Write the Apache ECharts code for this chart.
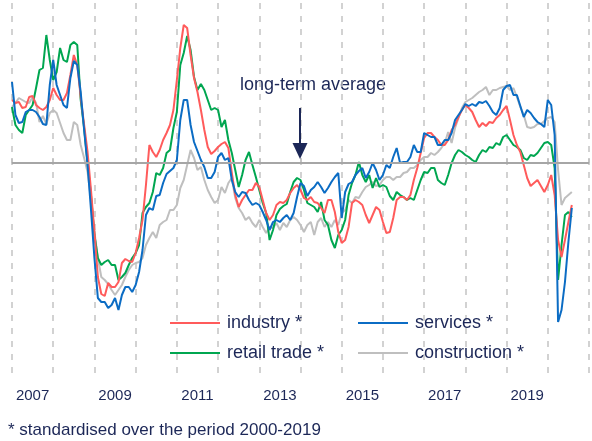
<!DOCTYPE html>
<html>
<head>
<meta charset="utf-8">
<script src="https://cdn.jsdelivr.net/npm/echarts@6/dist/echarts.min.js"></script>
<style>
html,body{margin:0;padding:0;background:#fff;}
#chart{width:592px;height:441px;}
</style>
</head>
<body>
<div id="chart"></div>
<script>
// Monthly categories Jan 2007 .. Jan 2021
const months = [];
for (let y = 2007; y <= 2021; y++) {
  for (let m = 1; m <= 12; m++) {
    if (y === 2021 && m > 1) break;
    months.push(y + '-' + String(m).padStart(2, '0'));
  }
}
const years = ['2007','2008','2009','2010','2011','2012','2013','2014','2015','2016','2017','2018','2019','2020'];

// Standardised confidence indicators (long-term average = 0), Jan 2007 .. Aug 2020
const industry = [
  1.26,1.20,1.22,1.10,1.12,1.32,1.34,1.16,1.10,1.06,1.12,1.26,
  1.50,1.36,1.26,1.26,1.40,1.76,2.16,1.96,1.32,0.76,0.22,-0.54,
  -1.38,-2.28,-2.62,-2.66,-2.40,-2.48,-2.48,-2.38,-2.00,-1.92,-1.96,-1.98,
  -1.80,-1.50,-1.14,-0.44,0.36,0.22,0.12,0.26,0.46,0.60,0.76,1.06,
  1.66,2.30,2.76,2.70,2.16,1.70,1.42,1.06,0.66,0.32,0.18,0.24,
  0.32,0.38,0.42,0.30,-0.20,-0.64,-0.88,-0.74,-0.64,-0.54,-0.54,-0.40,
  -0.48,-0.74,-1.00,-1.14,-1.04,-0.84,-0.78,-0.80,-0.74,-0.60,-0.50,-0.44,
  -0.54,-0.70,-0.74,-0.68,-0.78,-0.80,-0.90,-1.00,-0.74,-0.74,-0.98,-1.38,
  -1.60,-1.54,-1.28,-0.80,-0.74,-0.78,-0.84,-1.04,-1.20,-1.04,-0.88,-0.94,
  -1.18,-1.40,-1.38,-1.10,-0.74,-0.68,-0.68,-0.74,-0.64,-0.34,-0.10,0.20,
  0.50,0.60,0.60,0.52,0.46,0.36,0.36,0.46,0.66,0.76,0.92,1.06,
  1.16,1.10,1.02,0.86,0.72,0.80,0.74,0.82,0.80,0.90,0.96,1.06,
  1.14,0.86,0.56,0.36,0.22,-0.04,-0.30,-0.46,-0.40,-0.34,-0.46,-0.58,
  -0.44,-0.24,-0.64,-1.54,-1.88,-1.54,-1.18,-0.84
];
const services = [
  1.62,0.96,0.80,0.82,1.02,1.06,1.06,1.02,0.92,0.78,0.76,1.56,
  2.06,1.56,1.36,1.16,1.10,1.70,2.04,1.96,1.42,0.66,-0.04,-0.94,
  -1.90,-2.70,-2.78,-2.78,-2.90,-2.84,-2.70,-2.94,-2.64,-2.48,-2.48,-2.58,
  -2.44,-2.18,-1.74,-1.04,-0.90,-0.94,-0.66,-0.64,-0.40,-0.22,-0.16,-0.10,
  0.06,0.86,1.26,1.26,0.76,0.42,0.24,0.06,-0.08,-0.30,-0.30,-0.18,
  0.12,0.20,0.06,0.10,-0.34,-0.58,-0.68,-0.58,-0.60,-0.74,-0.84,-0.80,
  -0.84,-0.98,-1.14,-1.34,-1.18,-1.14,-1.18,-1.10,-1.04,-1.14,-1.00,-0.68,
  -0.40,-0.46,-0.66,-0.54,-0.48,-0.38,-0.48,-0.60,-0.50,-0.38,-0.28,-0.20,
  -1.10,-0.58,-0.42,-0.38,-0.24,-0.16,-0.10,-0.30,-0.18,0.00,-0.14,-0.34,
  -0.24,-0.04,-0.10,0.12,0.30,0.00,0.02,0.02,0.12,0.36,0.22,0.22,
  0.60,0.56,0.52,0.52,0.36,0.36,0.46,0.46,0.60,0.86,0.96,1.06,
  1.18,1.14,1.18,1.14,1.22,1.20,1.24,1.14,1.02,0.96,1.10,1.46,
  1.54,1.56,1.36,1.36,1.14,0.92,1.06,1.00,0.90,0.82,0.78,0.72,
  1.26,1.16,0.56,-3.18,-2.94,-2.38,-1.58,-0.90
];
const retail = [
  1.12,0.76,0.66,0.60,0.96,1.06,1.16,1.50,1.86,1.90,2.56,2.06,
  1.66,1.82,2.30,2.06,2.02,2.36,2.42,2.36,1.26,0.70,0.00,-0.64,
  -1.44,-1.90,-2.04,-1.98,-1.94,-2.04,-2.04,-2.34,-2.28,-2.20,-2.04,-1.90,
  -1.80,-1.64,-1.00,-0.88,-0.80,-0.58,-0.20,-0.24,-0.10,0.20,0.26,0.70,
  1.02,1.96,2.20,2.54,2.26,1.72,1.46,1.58,1.46,1.26,1.06,1.10,
  1.06,0.72,0.86,0.46,0.20,-0.14,-0.48,-0.24,0.06,0.22,-0.04,-0.28,
  -0.54,-0.80,-1.00,-1.54,-1.34,-1.04,-0.92,-0.86,-0.82,-0.58,-0.38,-0.30,
  -0.34,-0.54,-0.80,-0.84,-0.88,-0.98,-0.78,-1.14,-1.24,-1.54,-1.70,-1.44,
  -1.34,-1.14,-0.64,-0.40,-0.24,0.02,-0.24,-0.38,-0.24,-0.50,-0.30,-0.48,
  -0.44,-0.48,-0.66,-0.74,-0.58,-0.64,-0.68,-0.74,-0.70,-0.74,-0.54,-0.34,
  -0.18,-0.20,-0.10,-0.10,-0.34,-0.40,-0.44,-0.24,0.00,0.16,0.26,0.22,
  0.16,0.12,0.06,0.02,0.16,0.26,0.22,0.32,0.30,0.40,0.36,0.52,
  0.56,0.46,0.36,0.32,0.26,0.10,0.06,0.16,0.14,0.20,0.30,0.40,
  0.42,0.36,-0.10,-2.34,-1.64,-1.04,-0.98,-1.08
];
const construction = [
  1.12,1.20,1.30,1.26,1.22,1.20,1.32,1.20,0.82,0.94,0.78,1.00,
  1.06,1.00,0.80,0.60,0.46,0.46,0.82,0.76,0.36,0.10,-0.18,-0.74,
  -1.38,-1.90,-2.28,-2.34,-2.42,-2.54,-2.64,-2.54,-2.44,-2.28,-2.14,-2.04,
  -2.00,-1.98,-1.90,-1.64,-1.50,-1.38,-1.50,-1.24,-1.18,-1.14,-0.94,-0.94,
  -0.84,-0.50,-0.34,-0.04,0.26,0.10,-0.14,-0.08,-0.34,-0.54,-0.68,-0.80,
  -0.74,-0.48,-0.60,-0.40,-0.30,-0.70,-0.90,-1.00,-1.14,-1.08,-1.20,-1.28,
  -1.14,-1.28,-1.40,-1.28,-1.30,-1.20,-1.34,-1.20,-1.28,-1.14,-1.08,-1.14,
  -1.24,-1.38,-1.24,-1.18,-1.44,-1.18,-1.10,-1.28,-1.18,-1.28,-1.14,-1.24,
  -1.00,-0.94,-0.74,-0.80,-0.68,-0.70,-0.58,-0.48,-0.44,-0.38,-0.46,-0.44,
  -0.34,-0.28,-0.28,-0.34,-0.28,-0.28,-0.20,-0.18,-0.10,-0.10,-0.04,0.06,
  0.12,0.12,0.20,0.16,0.22,0.30,0.40,0.62,0.40,0.70,0.90,1.10,
  1.22,1.26,1.30,1.36,1.42,1.46,1.52,1.36,1.46,1.46,1.50,1.52,
  1.54,1.46,1.50,1.32,1.12,0.96,0.72,0.70,0.72,0.78,0.78,0.84,
  0.90,0.92,0.82,-0.14,-0.84,-0.70,-0.64,-0.58
];
const longTermAverage = 0;

const NAVY = '#1c2757';
const FONT = '"Liberation Sans", Arial, sans-serif';

const chart = echarts.init(document.getElementById('chart'), null, {renderer: 'canvas'});

function lineSeries(name, data, color) {
  return {
    name: name, type: 'line', data: data, symbol: 'none', smooth: false,
    lineStyle: {color: color, width: 2}, itemStyle: {color: color},
    emphasis: {disabled: true}
  };
}

const sConstruction = lineSeries('construction *', construction, '#bfbfbf');
sConstruction.markLine = {
  silent: true, symbol: 'none', label: {show: false},
  lineStyle: {color: '#a6a6a6', width: 2, type: 'solid'},
  data: [{yAxis: longTermAverage}]
};

const option = {
  animation: false,
  backgroundColor: '#ffffff',
  grid: {left: 12, right: 3, top: 3, bottom: 68, containLabel: false},
  xAxis: [
    {
      type: 'category', data: months, boundaryGap: false,
      axisLine: {show: true, lineStyle: {color: '#bfbfbf', width: 1.5}},
      axisTick: {show: true, inside: true, interval: 11, length: 5, lineStyle: {color: '#bfbfbf', width: 1.5}},
      axisLabel: {show: false},
      splitLine: {show: true, interval: 11, lineStyle: {color: '#c4c4c4', width: 1.5, type: [6, 7]}}
    },
    {
      type: 'category', data: years, boundaryGap: true, position: 'bottom',
      axisLine: {show: false}, axisTick: {show: false}, splitLine: {show: false},
      axisLabel: {interval: 1, color: NAVY, fontSize: 15, margin: 15, fontFamily: FONT}
    }
  ],
  yAxis: {type: 'value', min: -4.2, max: 3.2, show: false},
  legend: [
    {
      data: ['industry *', 'retail trade *'], orient: 'vertical',
      left: 165, top: 309, itemWidth: 50, itemHeight: 2, itemGap: 12, icon: 'rect',
      textStyle: {color: NAVY, fontSize: 18, fontFamily: FONT, padding: [0, 0, 0, 2]},
      selectedMode: false
    },
    {
      data: ['services *', 'construction *'], orient: 'vertical',
      left: 353, top: 309, itemWidth: 50, itemHeight: 2, itemGap: 12, icon: 'rect',
      textStyle: {color: NAVY, fontSize: 18, fontFamily: FONT, padding: [0, 0, 0, 2]},
      selectedMode: false
    }
  ],
  series: [
    sConstruction,
    lineSeries('retail trade *', retail, '#00a650'),
    lineSeries('industry *', industry, '#ff5b5b'),
    lineSeries('services *', services, '#0b6cc4')
  ],
  graphic: [
    {type: 'text', left: 240, top: 76, silent: true,
     style: {text: 'long-term average', fill: NAVY, font: '18px ' + FONT}},
    {type: 'polygon', silent: true, z: 100,
     shape: {points: [[299, 108], [301, 108], [301, 143], [307.5, 143], [300, 159], [292.5, 143], [299, 143]]},
     style: {fill: NAVY}},
    {type: 'text', left: 8, top: 422, silent: true,
     style: {text: '* standardised over the period 2000-2019', fill: NAVY, font: '17px ' + FONT}}
  ]
};
chart.setOption(option);
</script>
</body>
</html>
